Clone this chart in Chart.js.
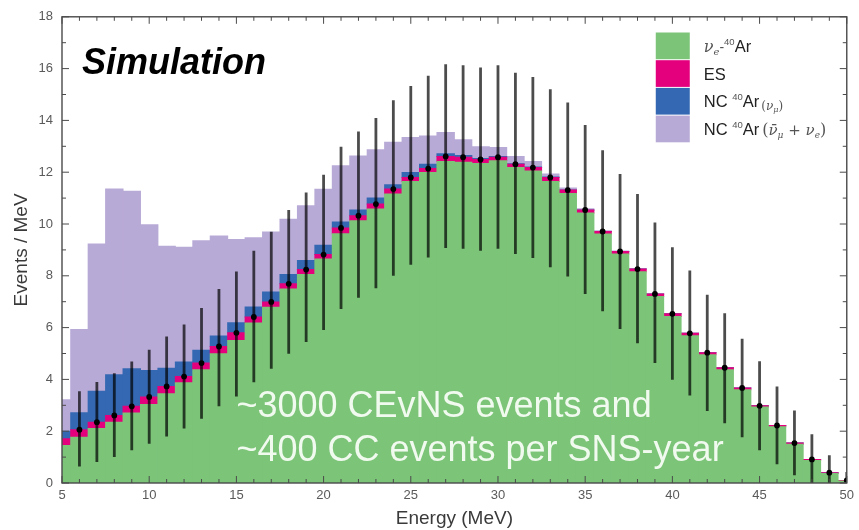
<!DOCTYPE html>
<html><head><meta charset="utf-8">
<script src="https://cdn.jsdelivr.net/npm/chart.js@4.4.1/dist/chart.umd.min.js"></script>
<style>html,body{margin:0;padding:0;background:#fff;}#wrap{width:859px;height:530px;}</style>
</head><body><div id="wrap"><canvas id="c" width="859" height="530"></canvas></div>
<script>
// Energy bin centres (MeV)
const energies = [5,6,7,8,9,10,11,12,13,14,15,16,17,18,19,20,21,22,23,24,25,26,27,28,29,30,31,32,33,34,35,36,37,38,39,40,41,42,43,44,45,46,47,48,49,50];
// nu_e - 40Ar CC (green)
const nueAr = [1.45,1.77,2.10,2.35,2.70,3.03,3.45,3.87,4.37,4.99,5.50,6.18,6.79,7.49,8.05,8.65,9.62,10.13,10.58,11.16,11.64,11.99,12.41,12.38,12.34,12.44,12.18,12.05,11.64,11.18,10.42,9.61,8.84,8.16,7.20,6.43,5.69,4.95,4.37,3.60,2.93,2.17,1.50,0.87,0.37,0.08];
// ES (pink)
const es = [0.26,0.29,0.25,0.26,0.26,0.29,0.28,0.24,0.26,0.28,0.30,0.23,0.20,0.20,0.19,0.17,0.23,0.19,0.19,0.19,0.16,0.15,0.20,0.20,0.15,0.14,0.13,0.13,0.16,0.13,0.12,0.10,0.10,0.10,0.10,0.10,0.09,0.08,0.08,0.07,0.05,0.05,0.04,0.04,0.03,0.02];
// NC 40Ar (nu_mu) (blue)
const ncNumu = [0.29,0.65,1.19,1.57,1.45,1.02,0.70,0.56,0.50,0.41,0.39,0.39,0.38,0.36,0.35,0.36,0.23,0.22,0.23,0.17,0.19,0.17,0.10,0.06,0.04,0.03,0.02,0.02,0.01,0,0,0,0,0,0,0,0,0,0,0,0,0,0,0,0,0];
// NC 40Ar (nubar_mu + nu_e) (purple)
const ncOther = [1.21,3.22,5.69,7.17,6.85,5.63,4.71,4.43,4.22,3.86,3.21,2.67,2.32,2.13,2.11,2.16,2.17,2.09,1.87,1.64,1.35,1.09,0.82,0.61,0.45,0.34,0.28,0.21,0.12,0.08,0.05,0.03,0.02,0.01,0,0,0,0,0,0,0,0,0,0,0,0];
// Error bar ends
const errLow = [null,0.64,0.81,1.00,1.26,1.52,1.80,2.10,2.48,2.96,3.34,3.89,4.41,4.99,5.44,5.91,6.72,7.15,7.52,8.00,8.43,8.71,9.07,9.04,8.97,9.04,8.84,8.69,8.33,7.97,7.30,6.63,5.95,5.40,4.63,3.99,3.38,2.78,2.31,1.77,1.26,0.72,0.30,0,0,0];
const errHigh = [null,3.54,3.90,4.24,4.69,5.14,5.66,6.12,6.76,7.49,8.17,8.97,9.70,10.54,11.22,11.90,12.98,13.57,14.09,14.78,15.33,15.72,16.17,16.13,16.04,16.13,15.84,15.68,15.20,14.69,13.82,12.85,11.93,11.16,10.06,9.10,8.20,7.27,6.55,5.57,4.70,3.73,2.80,1.88,1.07,0.42];
const xTickLabels = [5,10,15,20,25,30,35,40,45,50];
const yTickLabels = [0,2,4,6,8,10,12,14,16,18];
const seriesNames = ['\u03bde-40Ar','ES','NC 40Ar (\u03bd\u03bc)','NC 40Ar (\u03bd\u0304\u03bc + \u03bde)'];
const colors = ['rgb(124,196,120)','rgb(228,0,125)','rgb(52,104,178)','rgb(184,170,214)'];

const seriesValues = [nueAr, es, ncNumu, ncOther];
const datasets = seriesValues.map((vals, k) => ({
  label: seriesNames[k],
  data: energies.map((e, i) => ({x: e, y: vals[i]})),
  backgroundColor: colors[k],
  borderWidth: 0,
  barPercentage: 1,
  categoryPercentage: 1,
  inflateAmount: 0.5,
  stack: 's',
  clip: 0
}));

const FONT = "'Liberation Sans', Arial, sans-serif";
const MATH = "'DejaVu Serif', 'Liberation Serif', serif";

function drawRich(ctx, x, y, parts) {
  let cx = x;
  for (const p of parts) {
    const size = p.size || 16.5;
    ctx.font = (p.style || '') + ' ' + size + 'px ' + (p.math ? MATH : FONT);
    ctx.fillStyle = p.color || '#222';
    ctx.fillText(p.t, cx, y + (p.dy || 0));
    cx += ctx.measureText(p.t).width + (p.gap || 0);
  }
  return cx;
}

const overlay = {
  id: 'overlay',
  afterDatasetsDraw(chart) {
    const {ctx, chartArea: a, scales: {x, y}} = chart;
    ctx.save();
    ctx.beginPath(); ctx.rect(a.left, a.top, a.right - a.left, a.bottom - a.top); ctx.clip();
    // error bars
    ctx.strokeStyle = 'rgba(0,0,0,0.7)'; ctx.lineWidth = 2.8; ctx.lineCap = 'butt';
    energies.forEach((e, i) => {
      if (errLow[i] == null) return;
      const px = x.getPixelForValue(e);
      ctx.beginPath();
      ctx.moveTo(px, y.getPixelForValue(errLow[i]));
      ctx.lineTo(px, y.getPixelForValue(errHigh[i]));
      ctx.stroke();
    });
    ctx.fillStyle = '#000';
    energies.forEach((e, i) => {
      if (errLow[i] == null) return;
      const px = x.getPixelForValue(e), py = y.getPixelForValue(nueAr[i] + es[i]);
      ctx.beginPath(); ctx.arc(px, py, 2.9, 0, Math.PI * 2); ctx.fill();
    });
    ctx.restore();

    // frame and inward ticks
    ctx.save();
    ctx.strokeStyle = '#4a4a4a'; ctx.lineWidth = 1.4;
    ctx.strokeRect(a.left, a.top, a.right - a.left, a.bottom - a.top);
    ctx.lineWidth = 1;
    ctx.beginPath();
    x.ticks.forEach(t => {
      const px = x.getPixelForValue(t.value);
      const len = xTickLabels.includes(t.value) ? 7 : 4;
      ctx.moveTo(px, a.bottom); ctx.lineTo(px, a.bottom - len);
      ctx.moveTo(px, a.top); ctx.lineTo(px, a.top + len);
    });
    y.ticks.forEach(t => {
      const py = y.getPixelForValue(t.value);
      const len = yTickLabels.includes(t.value) ? 7 : 4;
      ctx.moveTo(a.left, py); ctx.lineTo(a.left + len, py);
      ctx.moveTo(a.right, py); ctx.lineTo(a.right - len, py);
    });
    ctx.stroke();
    ctx.restore();

    // annotations
    ctx.save();
    ctx.textBaseline = 'alphabetic'; ctx.textAlign = 'left';
    ctx.font = "italic bold 36px " + FONT;
    ctx.fillStyle = '#000';
    ctx.fillText('Simulation', x.getPixelForValue(6.15), y.getPixelForValue(15.78));
    ctx.font = "36px " + FONT;
    ctx.fillStyle = 'rgba(246,252,244,0.96)';
    ctx.fillText('~3000 CEvNS events and', x.getPixelForValue(15.0), y.getPixelForValue(2.55));
    ctx.fillText('~400 CC events per SNS-year', x.getPixelForValue(15.0), y.getPixelForValue(0.85));

    // legend
    const sx = a.right - 191, sw = 34, sh = 26.7, sy0 = 32.5, pitch = 27.7;
    for (let k = 0; k < 4; k++) {
      ctx.fillStyle = colors[k];
      ctx.fillRect(sx, sy0 + k * pitch, sw, sh);
    }
    const tx = sx + 48;
    const base = k => sy0 + k * pitch + sh / 2 + 6;
    const g = '#555';
    drawRich(ctx, tx, base(0), [
      {t: '\u03bd', math: true, style: 'italic', color: g, size: 16},
      {t: 'e', math: true, style: 'italic', color: g, size: 10, dy: 3},
      {t: '-', color: g, size: 14},
      {t: '40', size: 9.5, dy: -7, color: g},
      {t: 'Ar'}
    ]);
    drawRich(ctx, tx, base(1), [{t: 'ES'}]);
    drawRich(ctx, tx, base(2), [
      {t: 'NC '}, {t: '40', size: 9.5, dy: -7, color: g}, {t: 'Ar', gap: 2},
      {t: '(', math: true, size: 12, dy: 3, color: g},
      {t: '\u03bd', math: true, style: 'italic', size: 12, dy: 3, color: g},
      {t: '\u03bc', math: true, style: 'italic', size: 8, dy: 5, color: g},
      {t: ')', math: true, size: 12, dy: 3, color: g}
    ]);
    drawRich(ctx, tx, base(3), [
      {t: 'NC '}, {t: '40', size: 9.5, dy: -7, color: g}, {t: 'Ar', gap: 3},
      {t: '(', math: true, size: 16, color: g},
      {t: '\u03bd\u0304', math: true, style: 'italic', size: 15, color: g},
      {t: '\u03bc', math: true, style: 'italic', size: 9, dy: 3, color: g},
      {t: ' + ', math: true, size: 15, color: g},
      {t: '\u03bd', math: true, style: 'italic', size: 15, color: g},
      {t: 'e', math: true, style: 'italic', size: 9, dy: 3, color: g},
      {t: ')', math: true, size: 16, color: g}
    ]);
    ctx.restore();
  }
};

new Chart(document.getElementById('c'), {
  type: 'bar',
  data: {datasets},
  options: {
    responsive: false,
    animation: false,
    devicePixelRatio: 1,
    layout: {padding: {left: 0, right: 4, top: 16, bottom: 0}},
    plugins: {legend: {display: false}, tooltip: {enabled: false}},
    scales: {
      x: {
        type: 'linear', min: 5, max: 50, offset: false, stacked: true,
        grid: {display: false, drawTicks: false, offset: false},
        border: {display: false},
        ticks: {
          stepSize: 1, autoSkip: false, maxRotation: 0, padding: 5,
          color: '#5a5a5a', font: {family: FONT, size: 13},
          callback: v => xTickLabels.includes(v) ? String(v) : ''
        },
        title: {display: true, text: 'Energy (MeV)', color: '#3a3a3a', font: {family: FONT, size: 19}, padding: {top: 0, bottom: 0}},
        afterFit: s => { s.height = 47; }
      },
      y: {
        type: 'linear', min: 0, max: 18, stacked: true,
        grid: {display: false, drawTicks: false},
        border: {display: false},
        ticks: {
          stepSize: 1, autoSkip: false, padding: 9,
          color: '#5a5a5a', font: {family: FONT, size: 13},
          callback: v => yTickLabels.includes(v) ? String(v) : ''
        },
        title: {display: true, text: 'Events / MeV', color: '#3a3a3a', font: {family: FONT, size: 19}, padding: {top: 10, bottom: 0}},
        afterFit: s => { s.width = 62; }
      }
    }
  },
  plugins: [overlay]
});
</script></body></html>
